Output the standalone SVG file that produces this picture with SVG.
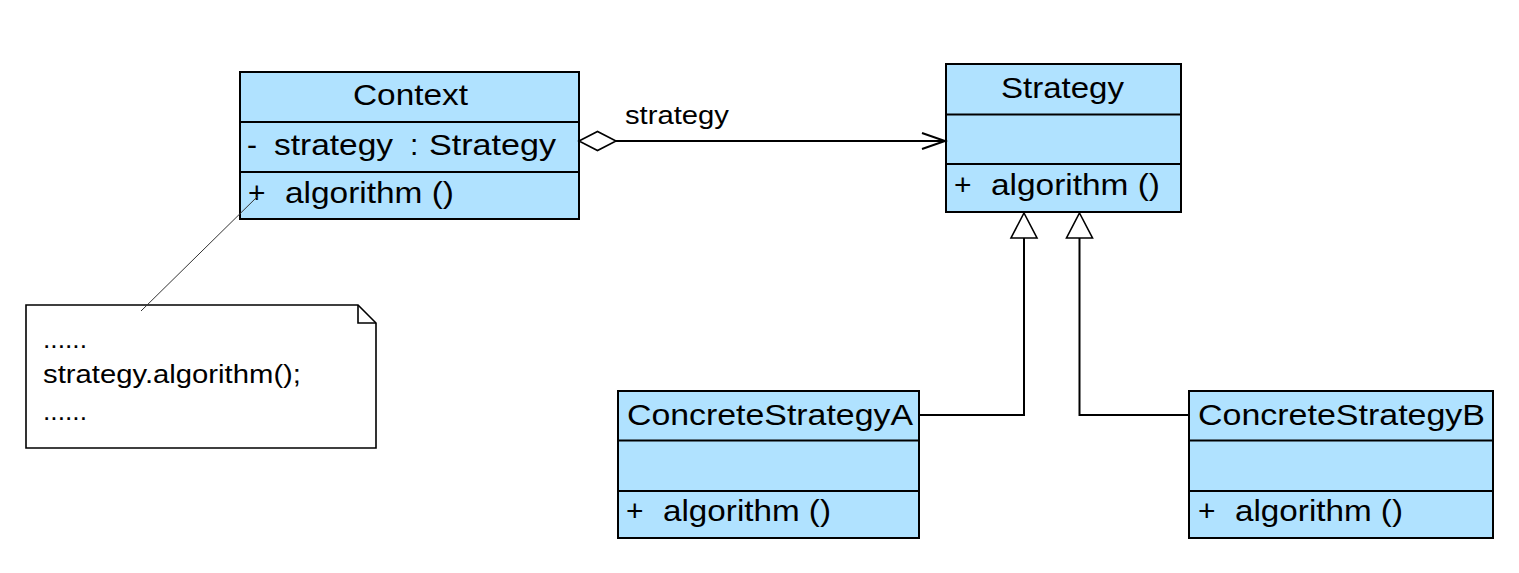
<svg xmlns="http://www.w3.org/2000/svg" width="1519" height="573" viewBox="0 0 1519 573">
<style>
.box{fill:#B0E2FF;stroke:#000;stroke-width:2}
.div{stroke:#000;stroke-width:2}
.t{font-family:"Liberation Sans",Arial,sans-serif;font-size:30px;fill:#000}
.n{font-family:"Liberation Sans",Arial,sans-serif;font-size:25px;fill:#000}
.ln{fill:none;stroke:#000;stroke-width:2}
</style>
<rect width="1519" height="573" fill="#fff"/>
<g id="Context">
<rect class="box" x="240" y="72" width="339" height="147"/>
<line class="div" x1="240" y1="122" x2="579" y2="122"/>
<line class="div" x1="240" y1="172" x2="579" y2="172"/>
<text class="t" x="353" y="105" textLength="115" lengthAdjust="spacingAndGlyphs">Context</text>
<text class="t" x="247" y="155">-</text>
<text class="t" x="274" y="155" textLength="119" lengthAdjust="spacingAndGlyphs">strategy</text>
<text class="t" x="410" y="155">:</text>
<text class="t" x="429" y="155" textLength="127" lengthAdjust="spacingAndGlyphs">Strategy</text>
<text class="t" x="248" y="203">+</text>
<text class="t" x="285" y="203" textLength="169" lengthAdjust="spacingAndGlyphs">algorithm ()</text>
</g>
<g id="Strategy">
<rect class="box" x="946" y="64" width="235" height="148"/>
<line class="div" x1="946" y1="114.5" x2="1181" y2="114.5"/>
<line class="div" x1="946" y1="164" x2="1181" y2="164"/>
<text class="t" x="1001" y="98" textLength="123" lengthAdjust="spacingAndGlyphs">Strategy</text>
<text class="t" x="954" y="195">+</text>
<text class="t" x="991" y="195" textLength="169" lengthAdjust="spacingAndGlyphs">algorithm ()</text>
</g>
<g id="ConcreteStrategyA">
<rect class="box" x="618" y="391" width="301" height="147"/>
<line class="div" x1="618" y1="440.5" x2="919" y2="440.5"/>
<line class="div" x1="618" y1="491" x2="919" y2="491"/>
<text class="t" x="627" y="425" textLength="286" lengthAdjust="spacingAndGlyphs">ConcreteStrategyA</text>
<text class="t" x="626" y="521">+</text>
<text class="t" x="663" y="521" textLength="168" lengthAdjust="spacingAndGlyphs">algorithm ()</text>
</g>
<g id="ConcreteStrategyB">
<rect class="box" x="1189" y="391" width="304" height="147"/>
<line class="div" x1="1189" y1="440.5" x2="1493" y2="440.5"/>
<line class="div" x1="1189" y1="491" x2="1493" y2="491"/>
<text class="t" x="1198" y="425" textLength="287" lengthAdjust="spacingAndGlyphs">ConcreteStrategyB</text>
<text class="t" x="1198" y="521">+</text>
<text class="t" x="1235" y="521" textLength="168" lengthAdjust="spacingAndGlyphs">algorithm ()</text>
</g>
<g id="Note">
<polygon points="26,305 358,305 376,323 376,448 26,448" fill="#fff" stroke="#000" stroke-width="1.6"/>
<polyline points="358,305 358,323 376,323" fill="none" stroke="#000" stroke-width="1.6"/>
<text class="n" x="43" y="348" textLength="44" lengthAdjust="spacingAndGlyphs">......</text>
<text class="n" x="43" y="383" textLength="258" lengthAdjust="spacingAndGlyphs">strategy.algorithm();</text>
<text class="n" x="43" y="420" textLength="44" lengthAdjust="spacingAndGlyphs">......</text>
</g>
<g id="connectors">
<line x1="141" y1="311" x2="258" y2="196" stroke="#333" stroke-width="1"/>
<line class="ln" x1="616" y1="141" x2="945" y2="141"/>
<polygon points="579,141 597.5,131.5 616,141 597.5,150.5" fill="#fff" stroke="#000" stroke-width="1.6"/>
<polyline class="ln" points="922,133 945,141 922,149"/>
<text class="n" x="625" y="124" textLength="104" lengthAdjust="spacingAndGlyphs">strategy</text>
<polyline class="ln" points="1024,238 1024,415 919,415"/>
<polygon points="1024,213 1037,238 1011,238" fill="#fff" stroke="#000" stroke-width="1.6"/>
<polyline class="ln" points="1079.5,238 1079.5,415 1189,415"/>
<polygon points="1079.5,213 1092.5,238 1066.5,238" fill="#fff" stroke="#000" stroke-width="1.6"/>
</g>
</svg>
